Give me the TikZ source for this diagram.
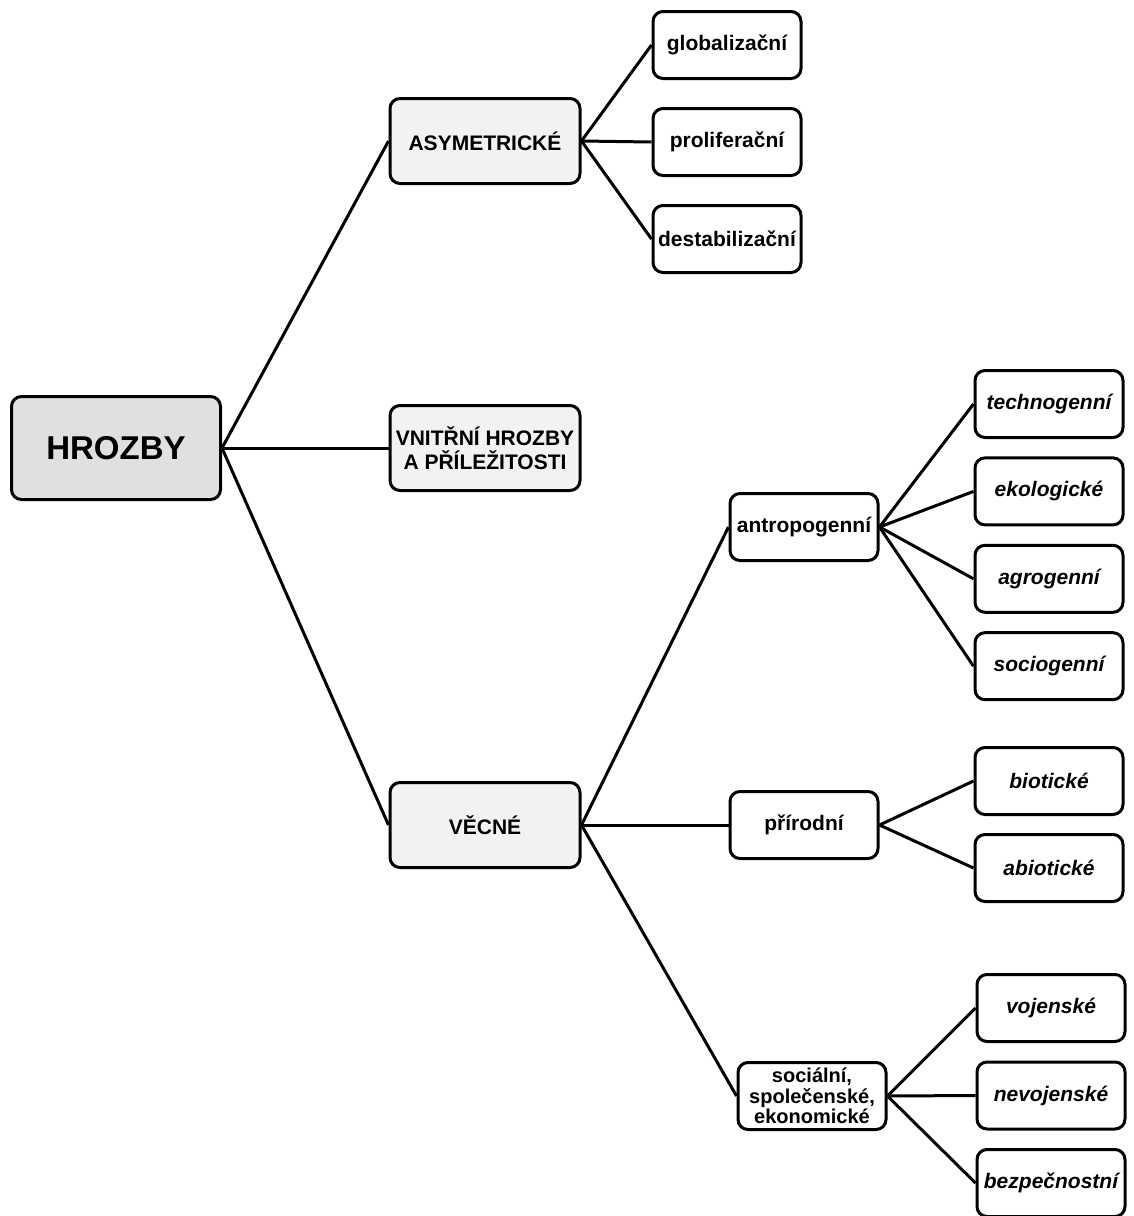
\documentclass[tikz,border=0pt]{standalone}
\usepackage{fontspec}
\setmainfont{Liberation Sans}
\usepackage{tikz}

\begin{document}
\begin{tikzpicture}[x=1pt,y=-1pt]
	\useasboundingbox (0,0) rectangle (1134,1216);
	\tikzstyle{box}=[draw=black,line width=3pt,rounded corners=10pt,align=center,inner xsep=4pt,inner ysep=2pt,font=\bfseries\fontsize{21}{24}\selectfont]
	\tikzstyle{root}=[box,fill=black!12,minimum width=209pt,minimum height=103pt,font=\bfseries\fontsize{33}{36}\selectfont]
	\tikzstyle{branch}=[box,fill=black!5,minimum width=190pt,minimum height=85pt]
	\tikzstyle{sub}=[box,fill=white,minimum width=148pt,minimum height=67pt]
	\tikzstyle{leaf}=[sub,font=\bfseries\itshape\fontsize{21}{24}\selectfont]
	\tikzstyle{link}=[line width=3pt]
	\node[root] at (116,448) (hrozby) {HROZBY};
	\node[branch] at (485,141) (asym) {ASYMETRICKÉ};
	\node[branch] at (485,448) (vnitr) {VNITŘNÍ HROZBY\\A PŘÍLEŽITOSTI};
	\node[branch] at (485,825) (vecne) {VĚCNÉ};
	\node[sub] at (804,527) (antro) {antropogenní};
	\node[sub] at (804,825) (prir) {přírodní};
	\node[sub,inner ysep=1pt,font=\bfseries\fontsize{20}{20.5}\selectfont] at (812,1096) (soc) {sociální,\\společenské,\\ekonomické};
	\foreach \x in {asym,vnitr,vecne}
		\draw[link] (hrozby.east)--(\x.west);
	\foreach \x in {antro,prir,soc}
		\draw[link] (vecne.east)--(\x.west);
	\foreach \t[count=\a] in {globalizační,proliferační,destabilizační}
	{\pgfmathsetmacro{\yn}{97*\a-52}
		\node[sub] at (727,\yn) (g\a) {\t};
		\draw[link] (asym.east)--(g\a.west);}
	\foreach \t[count=\a] in {technogenní,ekologické,agrogenní,sociogenní}
	{\pgfmathsetmacro{\yn}{87.4*\a+316.6}
		\node[leaf] at (1049,\yn) (t\a) {\t};
		\draw[link] (antro.east)--(t\a.west);}
	\foreach \t[count=\a] in {biotické,abiotické}
	{\pgfmathsetmacro{\yn}{87*\a+694}
		\node[leaf] at (1049,\yn) (p\a) {\t};
		\draw[link] (prir.east)--(p\a.west);}
	\foreach \t[count=\a] in {vojenské,nevojenské,bezpečnostní}
	{\pgfmathsetmacro{\yn}{87.5*\a+920.5}
		\node[leaf] at (1051,\yn) (s\a) {\t};
		\draw[link] (soc.east)--(s\a.west);}
\end{tikzpicture}
\end{document}
